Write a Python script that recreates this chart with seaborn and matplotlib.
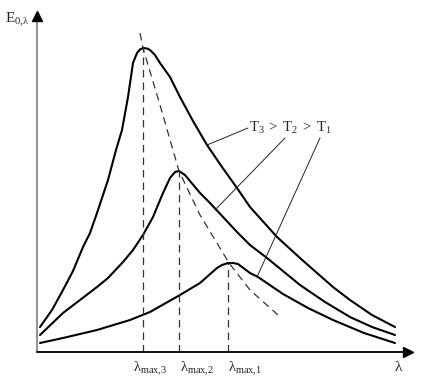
import matplotlib
matplotlib.use("Agg")
import matplotlib.pyplot as plt
import seaborn as sns
import numpy as np

# wavelength (arbitrary units from the E axis) and spectral emissive power
lam_t3 = [3, 15, 26, 36, 46, 53, 60, 71, 79, 85, 91, 96, 100, 103, 106, 110, 113, 118, 123,
          133, 143, 156, 170, 185, 200, 213, 240, 263, 280, 296, 313, 335, 358]
e_t3 = [25, 42, 62, 81, 105, 119, 139, 172, 202, 222, 255, 289, 299, 302.5, 304, 303.5, 302, 297, 289,
        275, 255, 231, 207, 185, 164, 145, 115, 94, 79, 65, 52, 37, 25]

lam_t2 = [3, 26, 60, 71, 86, 96, 106, 116, 126, 133, 138, 142, 148, 163, 173, 200, 213,
          230, 263, 288, 313, 335, 358]
e_t2 = [17, 39, 65, 74, 90, 102, 117, 135, 159, 174, 180, 181, 177, 159, 149, 120, 107,
        94, 67, 50, 35, 25, 17]

lam_t1 = [3, 26, 60, 93, 113, 143, 163, 180, 185, 191, 196, 201, 213, 221, 246, 271, 296, 327, 358]
e_t1 = [9, 14, 22, 32, 40, 57, 69, 84, 87, 89, 89, 88, 79, 75, 58, 44, 32, 19, 9]

# Wien displacement line through the maxima
lam_wien = [103, 106, 123, 142, 163, 192, 213, 241]
e_wien = [319, 304, 247, 181, 137, 89, 62, 37]

peak_labels = [r"$\lambda_{\mathrm{max{,}3}}$", r"$\lambda_{\mathrm{max{,}2}}$", r"$\lambda_{\mathrm{max{,}1}}$"]
label_lam = [96, 143, 191]

sns.set_style("white")
plt.rcParams["font.family"] = ["Liberation Serif", "DejaVu Serif"]
plt.rcParams["mathtext.fontset"] = "custom"
plt.rcParams["mathtext.rm"] = "Liberation Serif"
plt.rcParams["mathtext.it"] = "Liberation Serif"

fig = plt.figure(figsize=(4.26, 3.82), dpi=100)
ax = fig.add_axes([37 / 426, 30 / 382, 375 / 426, 340 / 382])
ax.set_xlim(0, 375)
ax.set_ylim(0, 340)

curves = [(lam_t3, e_t3), (lam_t2, e_t2), (lam_t1, e_t1)]
for lam, e in curves:
    sns.lineplot(x=lam, y=e, ax=ax, color="black", lw=1.5, estimator=None, sort=False,
                 solid_joinstyle="round")

# dashed drops from each maximum + wien line
for (lam, e), lab, lx in zip(curves, peak_labels, label_lam):
    i = int(np.argmax(e))
    ax.plot([lam[i], lam[i]], [0, e[i]], color="#333333", lw=0.9, dashes=(6, 4))
    ax.text(lx, -8, lab, fontsize=10.5, ha="left", va="top")
sns.lineplot(x=lam_wien, y=e_wien, ax=ax, color="#333333", lw=0.9,
             estimator=None, sort=False).lines[-1].set_dashes((6, 4))

# legend text with leaders
ax.text(212, 224, r"$\mathregular{T_3\;>\;T_2\;>\;T_1}$", fontsize=10.5, ha="left", va="center")
leaders = [((211, 224), (170, 207)), ((248, 214), (178, 142)), ((283, 214), (220, 75))]
for start, end in leaders:
    ax.plot([start[0], end[0]], [start[1], end[1]], color="#222222", lw=0.7)

# axes with arrows
for s in ["top", "right", "left", "bottom"]:
    ax.spines[s].set_visible(False)
ax.plot([0, 0], [0, 336], color="#888888", lw=1.3, clip_on=False)
ax.plot([0, 371], [0, 0], color="black", lw=1.3, clip_on=False)
ax.plot(0, 336, marker="^", color="black", markersize=7, clip_on=False)
ax.plot(371, 0, marker=">", color="black", markersize=7, clip_on=False)
ax.set_xticks([])
ax.set_yticks([])
ax.set_xlabel("")
ax.set_ylabel("")

ax.text(-32, 332, r"$\mathregular{E_{0{,}\lambda}}$", fontsize=11, ha="left", va="center")
ax.text(357, -8, r"$\lambda$", fontsize=11, ha="left", va="top")

fig.savefig("out.png", dpi=100)
